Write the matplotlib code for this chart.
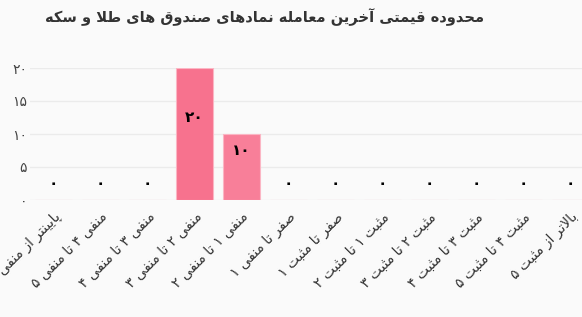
import matplotlib
matplotlib.use("Agg")
import matplotlib.pyplot as plt
import numpy as np

# --- data ---
title = "محدوده قیمتی آخرین معامله نمادهای صندوق های طلا و سکه"
categories = [
    "پایینتر از منفی ۵",
    "منفی ۴ تا منفی ۵",
    "منفی ۳ تا منفی ۴",
    "منفی ۲ تا منفی ۳",
    "منفی ۱ تا منفی ۲",
    "صفر تا منفی ۱",
    "صفر تا مثبت ۱",
    "مثبت ۱ تا مثبت ۲",
    "مثبت ۲ تا مثبت ۳",
    "مثبت ۳ تا مثبت ۴",
    "مثبت ۴ تا مثبت ۵",
    "بالاتر از مثبت ۵",
]
values = [0, 0, 0, 20, 10, 0, 0, 0, 0, 0, 0, 0]
yticks = [0, 5, 10, 15, 20]
bar_colors = ["#f7728e"] * 4 + ["#f87f99"] + ["#f7728e"] * 7

# --- minimal arabic/persian shaping (matplotlib has no bidi/shaping) ---
# char -> (isolated, final, initial, medial)
FORMS = {
    "ا": (0xFE8D, 0xFE8E, None, None),
    "آ": (0xFE81, 0xFE82, None, None),
    "ب": (0xFE8F, 0xFE90, 0xFE91, 0xFE92),
    "پ": (0xFB56, 0xFB57, 0xFB58, 0xFB59),
    "ت": (0xFE95, 0xFE96, 0xFE97, 0xFE98),
    "ث": (0xFE99, 0xFE9A, 0xFE9B, 0xFE9C),
    "ح": (0xFEA1, 0xFEA2, 0xFEA3, 0xFEA4),
    "خ": (0xFEA5, 0xFEA6, 0xFEA7, 0xFEA8),
    "د": (0xFEA9, 0xFEAA, None, None),
    "ر": (0xFEAD, 0xFEAE, None, None),
    "ز": (0xFEAF, 0xFEB0, None, None),
    "س": (0xFEB1, 0xFEB2, 0xFEB3, 0xFEB4),
    "ص": (0xFEB9, 0xFEBA, 0xFEBB, 0xFEBC),
    "ط": (0xFEC1, 0xFEC2, 0xFEC3, 0xFEC4),
    "ع": (0xFEC9, 0xFECA, 0xFECB, 0xFECC),
    "ف": (0xFED1, 0xFED2, 0xFED3, 0xFED4),
    "ق": (0xFED5, 0xFED6, 0xFED7, 0xFED8),
    "ک": (0xFB8E, 0xFB8F, 0xFB90, 0xFB91),
    "ل": (0xFEDD, 0xFEDE, 0xFEDF, 0xFEE0),
    "م": (0xFEE1, 0xFEE2, 0xFEE3, 0xFEE4),
    "ن": (0xFEE5, 0xFEE6, 0xFEE7, 0xFEE8),
    "ه": (0xFEE9, 0xFEEA, 0xFEEB, 0xFEEC),
    "و": (0xFEED, 0xFEEE, None, None),
    "ی": (0xFBFC, 0xFBFD, 0xFBFE, 0xFBFF),
}


def dual(c):
    return c in FORMS and FORMS[c][2] is not None


def shape(s):
    out = []
    i = 0
    while i < len(s):
        c = s[i]
        if c not in FORMS:
            out.append(c)
            i += 1
            continue
        prev_j = i > 0 and dual(s[i - 1])
        nxt = s[i + 1] if i + 1 < len(s) else ""
        if c == "ل" and nxt == "ا":
            out.append(chr(0xFEFC if prev_j else 0xFEFB))
            i += 2
            continue
        next_j = dual(c) and nxt in FORMS
        f = FORMS[c]
        if prev_j and next_j:
            out.append(chr(f[3]))
        elif prev_j:
            out.append(chr(f[1]))
        elif next_j:
            out.append(chr(f[2]))
        else:
            out.append(chr(f[0]))
        i += 1
    return "".join(out)[::-1]


def fa_num(n):
    return str(n).translate(str.maketrans("0123456789", "۰۱۲۳۴۵۶۷۸۹"))


bg = "#fafafa"
plt.rcParams["font.family"] = ["DejaVu Sans"]

fig = plt.figure(figsize=(5.82, 3.17), dpi=100, facecolor=bg)
ax = fig.add_axes([30 / 582, 117 / 317, 564 / 582, 132 / 317])
ax.set_facecolor(bg)

x = np.arange(len(categories))
ax.bar(x, values, width=0.8, color=bar_colors, edgecolor="#fbb6c4", linewidth=0.8, zorder=2)

for xi, v in zip(x, values):
    ax.annotate(fa_num(v), (xi, v / 2), xytext=(0, 12.2), textcoords="offset points",
                ha="center", va="center", fontsize=11, fontweight="bold", color="black", zorder=3)

ax.set_xlim(-0.5, len(categories) - 0.5)
ax.set_ylim(0, 20)
ax.set_yticks(yticks)
ax.set_yticklabels([fa_num(t) for t in yticks], fontsize=10, color="#444444")
ax.set_xticks(x)
ax.set_xticklabels([shape(c) for c in categories], rotation=45, ha="right", va="top",
                   rotation_mode="anchor", fontsize=10, color="#333333")
ax.tick_params(axis="both", length=0)
ax.tick_params(axis="y", pad=2)
ax.tick_params(axis="x", pad=7)
for sp in ax.spines.values():
    sp.set_visible(False)
ax.grid(axis="y", color="#ebebeb", linewidth=1, zorder=0)
ax.set_axisbelow(True)

fig.text(265 / 582, 1 - 17 / 317, shape(title), ha="center", va="center",
         fontsize=10.5, fontweight="bold", color="#333333")

fig.savefig("out.png", dpi=100, facecolor=bg)
